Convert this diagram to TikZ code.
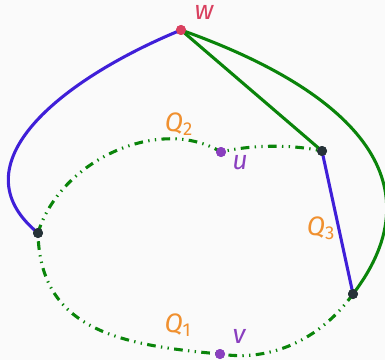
\documentclass[tikz,border=0pt]{standalone}
\usepackage{fontspec}
\setmainfont{Fira Sans}
\usetikzlibrary{positioning}
\definecolor{bgc}{HTML}{FAFAFA}
\definecolor{pblue}{HTML}{3F1FD8}
\definecolor{pgreen}{HTML}{0A840A}
\definecolor{wred}{HTML}{D9405F}
\definecolor{vpurp}{HTML}{8A3FBF}
\definecolor{qorange}{HTML}{F0902F}
\definecolor{vdark}{HTML}{263238}

\begin{document}
\begin{tikzpicture}[x=0.75pt,y=-0.75pt, every node/.style={font=\fontsize{20}{24}\selectfont\itshape}]
    \tikzset{
        vdot/.style={circle, inner sep=0pt, minimum size=7.5pt, fill=#1},
        bluepath/.style={draw=pblue, line width=2.3pt},
        greenpath/.style={draw=pgreen, line width=2.3pt},
        qpath/.style={draw=pgreen, line width=2.3pt, dash pattern=on 6.5pt off 4pt on 1pt off 4pt on 1pt off 4pt},
    }
    \fill[bgc] (0,0) rectangle (385,360);
    \useasboundingbox (0,0) rectangle (385,360);
    % vertices
    \node[vdot=wred] (w) at (181,30) {};
    \node[vdot=vpurp] (u) at (221,152) {};
    \node[vdot=vpurp] (v) at (220,354) {};
    \node[vdot=vdark] (a) at (38,233) {};
    \node[vdot=vdark] (b) at (322,151) {};
    \node[vdot=vdark] (c) at (353,294) {};
    % paths
    \draw[qpath] (a.center) .. controls (60,160) and (160,115) .. (u.center)
                 .. controls (250,145) and (290,144) .. (b.center);
    \draw[qpath] (c.center) .. controls (320,340) and (270,362) .. (v.center)
                 .. controls (120,345) and (40,330) .. (a.center);
    \draw[greenpath] (w.center) -- (b.center);
    \draw[greenpath] (w.center) .. controls (350,90) and (440,180) .. (c.center);
    \draw[bluepath] (w.center) .. controls (60,80) and (-45,165) .. (a.center);
    \draw[bluepath] (b.center) -- (c.center);
    % dots again on top
    \foreach \n/\c in {w/wred,u/vpurp,v/vpurp,a/vdark,b/vdark,c/vdark}
        \node[vdot=\c] at (\n) {};
    % labels
    \node[text=wred] (wl) at (204,12) {w};
    \node[text=vpurp] (ul) at (240,163) {u};
    \node[text=vpurp] (vl) at (239,336) {v};
    \node[text=qorange] (q2) at (179,124) {Q\textsubscript{\upshape 2}};
    \node[text=qorange] (q3) at (321,228) {Q\textsubscript{\upshape 3}};
    \node[text=qorange] (q1) at (178,325) {Q\textsubscript{\upshape 1}};
\end{tikzpicture}
\end{document}
